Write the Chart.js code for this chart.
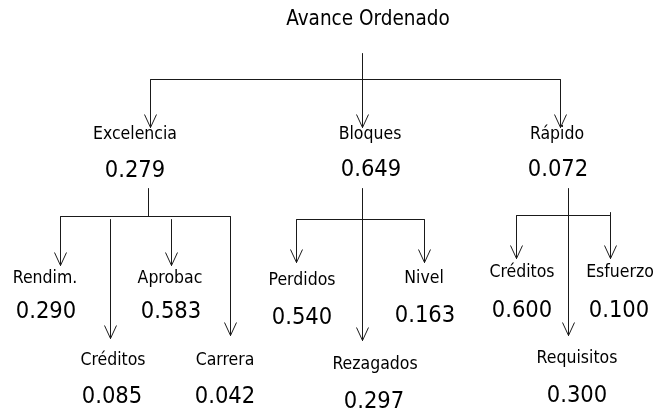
<!DOCTYPE html>
<html>
<head>
<meta charset="utf-8">
<title>Avance Ordenado</title>
<script src="https://cdn.jsdelivr.net/npm/chart.js@4.4.1/dist/chart.umd.min.js"></script>
<style>
  body { margin: 0; background: #fff; }
  #wrap { width: 656px; height: 410px; position: relative; }
</style>
</head>
<body>
<div id="wrap"><canvas id="tree"></canvas></div>
<script>
// data: goal, criteria and sub-criteria weights
var goal = 'Avance Ordenado';
var criteria = ['Excelencia', 'Bloques', 'Rápido'];
var criteriaWeights = [0.279, 0.649, 0.072];

var excelenciaSub = ['Rendim.', 'Créditos', 'Aprobac', 'Carrera'];
var excelenciaWeights = [0.290, 0.085, 0.583, 0.042];

var bloquesSub = ['Perdidos', 'Rezagados', 'Nivel'];
var bloquesWeights = [0.540, 0.297, 0.163];

var rapidoSub = ['Créditos', 'Requisitos', 'Esfuerzo'];
var rapidoWeights = [0.600, 0.300, 0.100];

// layout (pixel positions in the 656x410 frame)
var FONT = '"DejaVu Sans Condensed", "Liberation Sans", sans-serif';
var LINE = '#1a1a1a';

// text anchors: [centerX, baselineY] for name and weight
var goalPos = [368, 25];
var criteriaPos = [[135, 139, 135, 177], [370, 139, 371, 176], [557, 139, 558, 176]];
var subPos = [
  [[45, 283, 46, 318], [113, 365, 112, 403], [170, 283, 171, 318], [225, 365, 225, 403]],
  [[302, 285, 302, 324], [375, 369, 374, 408], [424, 283, 425, 322]],
  [[522, 277, 522, 317], [577, 363, 577, 402], [620, 277, 619, 317]]
];

// connectors: stem, bar and drops (x, top, tip) for each level
var rootStem = { x: 362, top: 53, tip: 127 };
var rootBar = { y: 79, from: 150, to: 560 };
var rootDrops = [[150, 79, 127], [560, 79, 127]];

var groups = [
  { stem: [148, 188, 216], bar: [216, 60, 230], arrowStem: false,
    drops: [[60, 216, 265], [110, 219, 338], [171, 219, 265], [230, 216, 335]] },
  { stem: [362, 188, 340], bar: [219, 296, 424], arrowStem: true,
    drops: [[296, 219, 262], [424, 219, 262]] },
  { stem: [568, 188, 335], bar: [215, 516, 610], arrowStem: true,
    drops: [[516, 215, 258], [610, 212, 258]] }
];

var HEAD_W = 6, HEAD_H = 13;

var datasets = [];
function seg(x1, y1, x2, y2) {
  datasets.push({
    data: [{ x: x1, y: y1 }, { x: x2, y: y2 }],
    showLine: true, borderColor: LINE, borderWidth: 1,
    pointRadius: 0, fill: false
  });
}
function arrow(x, top, tip) {
  seg(x, top, x, tip);
  datasets.push({
    data: [{ x: x - HEAD_W, y: tip - HEAD_H }, { x: x, y: tip }, { x: x + HEAD_W, y: tip - HEAD_H }],
    showLine: true, borderColor: LINE, borderWidth: 1,
    pointRadius: 0, fill: false
  });
}

arrow(rootStem.x, rootStem.top, rootStem.tip);
seg(rootBar.from, rootBar.y, rootBar.to, rootBar.y);
rootDrops.forEach(function (d) { arrow(d[0], d[1], d[2]); });

groups.forEach(function (g) {
  if (g.arrowStem) arrow(g.stem[0], g.stem[1], g.stem[2]);
  else seg(g.stem[0], g.stem[1], g.stem[0], g.stem[2]);
  seg(g.bar[1], g.bar[0], g.bar[2], g.bar[0]);
  g.drops.forEach(function (d) { arrow(d[0], d[1], d[2]); });
});

// labels drawn on the chart through the scales
var subNames = [excelenciaSub, bloquesSub, rapidoSub];
var subWeights = [excelenciaWeights, bloquesWeights, rapidoWeights];

var labelPlugin = {
  id: 'treeLabels',
  afterDatasetsDraw: function (chart) {
    var ctx = chart.ctx, sx = chart.scales.x, sy = chart.scales.y;
    function put(text, x, y, size) {
      ctx.font = size + 'px ' + FONT;
      ctx.fillText(text, sx.getPixelForValue(x) - 0.5, sy.getPixelForValue(y) - 0.5);
    }
    ctx.save();
    ctx.fillStyle = '#000';
    ctx.textAlign = 'center';
    ctx.textBaseline = 'alphabetic';
    put(goal, goalPos[0], goalPos[1], 20.5);
    criteria.forEach(function (c, i) {
      var p = criteriaPos[i];
      put(c, p[0], p[1], 17.5);
      put(criteriaWeights[i].toFixed(3), p[2], p[3], 23.5);
    });
    subNames.forEach(function (names, gi) {
      names.forEach(function (n, i) {
        var p = subPos[gi][i];
        put(n, p[0], p[1], 17.5);
        put(subWeights[gi][i].toFixed(3), p[2], p[3], 23.5);
      });
    });
    ctx.restore();
  }
};

window.onload = function () {
  var ctx = document.getElementById('tree').getContext('2d');
  window.myTree = new Chart(ctx, {
    type: 'scatter',
    data: { datasets: datasets },
    options: {
      responsive: true,
      maintainAspectRatio: false,
      animation: false,
      events: [],
      layout: { padding: 0 },
      clip: false,
      plugins: { legend: { display: false }, tooltip: { enabled: false } },
      scales: {
        x: { type: 'linear', display: false, min: -0.5, max: 655.5 },
        y: { type: 'linear', display: false, min: -0.5, max: 409.5, reverse: true }
      }
    },
    plugins: [labelPlugin]
  });
};
</script>
</body>
</html>
